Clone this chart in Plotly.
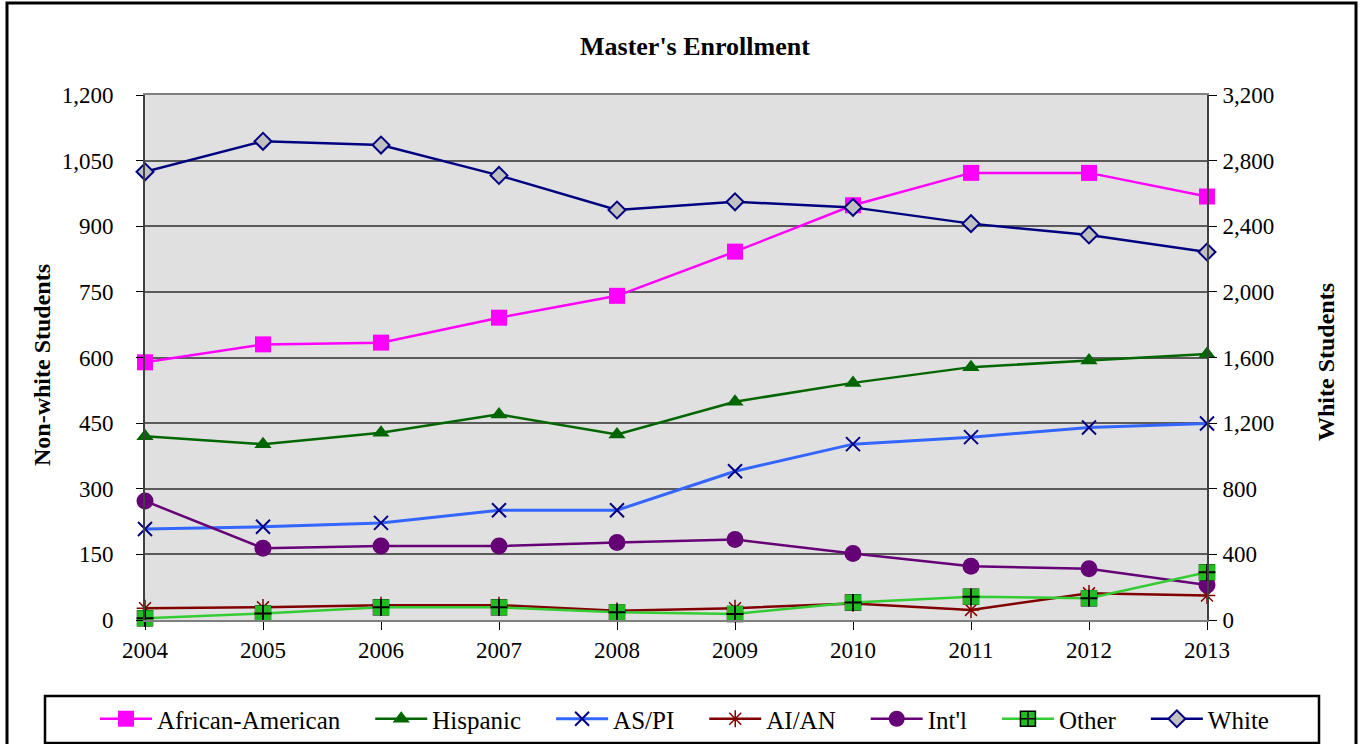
import plotly.graph_objects as go

years = [2004, 2005, 2006, 2007, 2008, 2009, 2010, 2011, 2012, 2013]

african_american = [589, 630, 634, 691, 741, 842, 948, 1022, 1022, 968]
hispanic = [420, 402, 428, 470, 424, 499, 542, 578, 593, 608]
as_pi = [208, 213, 222, 251, 251, 340, 402, 418, 440, 449]
ai_an = [27, 29, 34, 34, 21, 27, 38, 23, 61, 56]
intl = [272, 164, 169, 169, 177, 184, 152, 123, 117, 80]
other = [4, 15, 29, 29, 18, 14, 40, 53, 50, 109]
white = [2732, 2918, 2895, 2710, 2499, 2549, 2515, 2416, 2347, 2243]

left_ticks = [0, 150, 300, 450, 600, 750, 900, 1050, 1200]
right_ticks = [0, 400, 800, 1200, 1600, 2000, 2400, 2800, 3200]

W, H = 1364, 744
L, R, T, B = 145, 157, 95, 124
PW, PH = W - L - R, H - T - B
FONT = "Liberation Serif"
GAP = "\u00a0" * 4  # extra room between legend entries


def px(x):
    return (x - L) / PW


def py(y):
    return (H - B - y) / PH


fig = go.Figure()


def add(name, y, line_color, symbol, size, mcolor, mline_color=None, mline_w=0,
        width=2.5, yaxis="y", legend=True, mode="lines+markers"):
    fig.add_trace(go.Scatter(
        x=years, y=y, name=name, mode=mode, yaxis=yaxis,
        cliponaxis=False, showlegend=legend,
        line=dict(color=line_color, width=width),
        marker=dict(symbol=symbol, size=size, color=mcolor,
                    line=dict(color=mline_color or mcolor, width=mline_w)),
    ))


add("African-American" + GAP, african_american, "#FF00FF", "square", 16,
    "#FF00FF")
add("Hispanic" + GAP, hispanic, "#006600", "triangle-up", 15, "#006600")
add("AS/PI" + GAP, as_pi, "#3366FF", "x-thin", 14, "#000080", "#000080", 2,
    width=3)
add("AI/AN" + GAP, ai_an, "#800000", "asterisk-open", 14, "#800000",
    "#800000", 1.5)
add("Int'l" + GAP, intl, "#660077", "circle", 17, "#660077")
add("Other" + GAP, other, "#33CC33", "square-cross", 15, "#22BB22",
    "#000000", 1.5)
# plain green squares with a black cross on top, as in the original markers
add("Other", other, "#33CC33", "square", 16, "#22BB22", legend=False,
    mode="markers")
add("Other", other, "#000000", "cross-thin", 12, "#000000", "#000000", 2,
    legend=False, mode="markers")
add("White", white, "#000080", "diamond", 13, "#C0C0C0", "#000080", 2,
    yaxis="y2")

fig.update_layout(
    width=W, height=H,
    margin=dict(l=L, r=R, t=T, b=B, autoexpand=False),
    paper_bgcolor="white",
    plot_bgcolor="#E0E0E0",
    font=dict(family=FONT, size=23, color="black"),
    showlegend=True,
    legend=dict(
        orientation="h", x=px(1274), xanchor="right", y=py(719),
        yanchor="middle", font=dict(family=FONT, size=25, color="black"),
        itemwidth=52, bgcolor="rgba(0,0,0,0)", borderwidth=0,
    ),
    xaxis=dict(
        range=[2004, 2013], tickvals=years, showgrid=False, zeroline=False,
        showline=True, mirror=True, linecolor="#808080", linewidth=2,
        ticks="outside", ticklen=8, tickcolor="black",
        ticklabelstandoff=0,
    ),
    yaxis=dict(
        range=[0, 1200], tickvals=left_ticks, tickformat=",",
        showgrid=True, gridcolor="#5A5A5A", gridwidth=1.5, zeroline=False,
        showline=True, linecolor="#404040", linewidth=2,
        ticks="outside", ticklen=7, tickcolor="black",
        ticklabelstandoff=18,
    ),
    yaxis2=dict(
        range=[0, 3200], tickvals=right_ticks, tickformat=",",
        overlaying="y", side="right", showgrid=False, zeroline=False,
        showline=True, linecolor="#404040", linewidth=2,
        ticks="outside", ticklen=8, tickcolor="black",
        ticklabelstandoff=1,
    ),
    shapes=[
        dict(type="rect", xref="paper", yref="paper",
             x0=px(7), x1=px(1356), y0=py(747), y1=py(3),
             line=dict(color="black", width=3)),
        dict(type="rect", xref="paper", yref="paper",
             x0=px(45), x1=px(1319), y0=py(743), y1=py(696),
             line=dict(color="black", width=2.5)),
    ],
    annotations=[
        dict(text="<b>Master's Enrollment</b>", xref="paper", yref="paper",
             x=px(695), y=py(46), xanchor="center", yanchor="middle",
             showarrow=False, font=dict(size=26)),
        dict(text="<b>Non-white Students</b>", xref="paper", yref="paper",
             x=px(42), y=py(365), xanchor="center", yanchor="middle",
             showarrow=False, textangle=-90, font=dict(size=24)),
        dict(text="<b>White Students</b>", xref="paper", yref="paper",
             x=px(1326), y=py(362), xanchor="center", yanchor="middle",
             showarrow=False, textangle=-90, font=dict(size=24)),
    ],
)

fig.write_html("out.html", config={"displayModeBar": False},
               post_script="document.body.style.margin = '0';")
